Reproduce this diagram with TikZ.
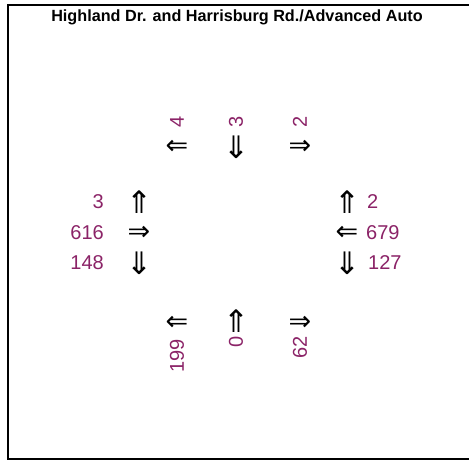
\documentclass[tikz,border=0pt]{standalone}
\usepackage{fontspec}
\setmainfont{Liberation Sans}
\newfontfamily\arrfont{DejaVu Sans}
\definecolor{numcol}{RGB}{139,35,103}
\begin{document}
\begin{tikzpicture}[x=1pt,y=-1pt,
  num/.style={text=numcol,font=\fontsize{20}{22}\selectfont,inner sep=0pt},
  harr/.style={font=\arrfont\fontsize{27}{29}\selectfont,inner sep=0pt},
  varr/.style={font=\arrfont\fontsize{31}{33}\selectfont,inner sep=0pt}]
\useasboundingbox (0,0) rectangle (469,460);
\draw[line width=2pt] (7.5,470) -- (7.5,5.5) -- (475,5.5);
\draw[line width=2pt] (7.5,459) -- (475,459);
\node[font=\fontsize{16.2}{18}\selectfont\bfseries] (title) at (237,17) {Highland Dr. and Harrisburg Rd./Advanced Auto};
% top
\node[harr] (tl) at (177,147) {⇐};
\node[varr] (tt) at (236,147) {⇓};
\node[harr] (tr) at (300,147) {⇒};
\node[num,rotate=90] (ntl) at (177,122) {4};
\node[num,rotate=90] (ntt) at (236,122) {3};
\node[num,rotate=90] (ntr) at (300,122) {2};
% left
\node[varr] (lu) at (139,202) {⇑};
\node[harr] (lr) at (139,233) {⇒};
\node[varr] (ld) at (139,263) {⇓};
\node[num,anchor=east] (nlu) at (104,202) {3};
\node[num,anchor=east] (nlr) at (104,233) {616};
\node[num,anchor=east] (nld) at (104,263) {148};
% right
\node[varr] (ru) at (347,202) {⇑};
\node[harr] (rl) at (347,233) {⇐};
\node[varr] (rd) at (347,263) {⇓};
\node[num,anchor=west] (nru) at (367,202) {2};
\node[num,anchor=west] (nrl) at (366,233) {679};
\node[num,anchor=west] (nrd) at (368,263) {127};
% bottom
\node[harr] (bl) at (177,323) {⇐};
\node[varr] (bt) at (236,321) {⇑};
\node[harr] (br) at (300,323) {⇒};
\node[num,rotate=90,anchor=east] (nbl) at (177,339) {199};
\node[num,rotate=90,anchor=east] (nbt) at (236,336) {0};
\node[num,rotate=90,anchor=east] (nbr) at (300,336) {62};
\end{tikzpicture}
\end{document}
